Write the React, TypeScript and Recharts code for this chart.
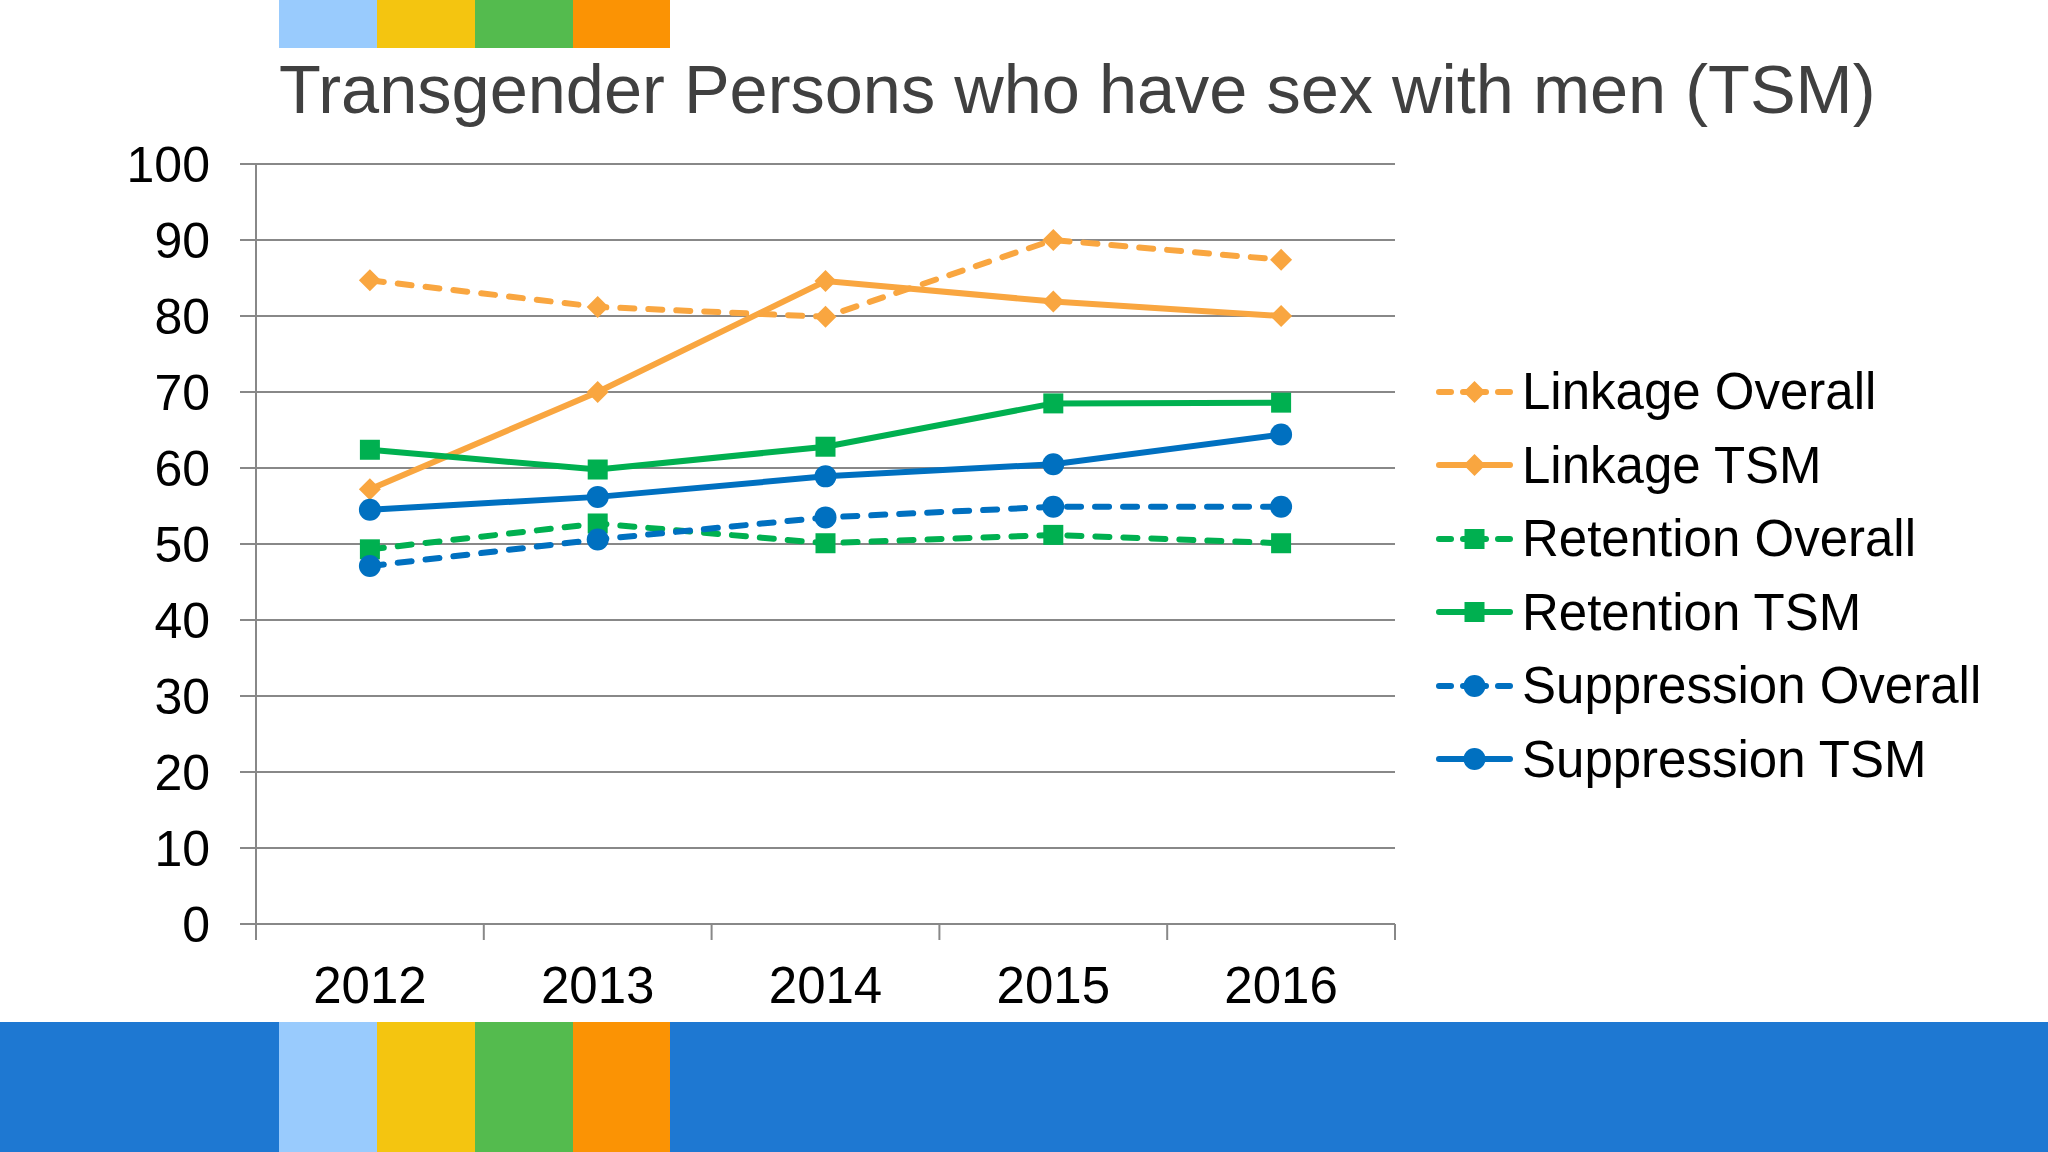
import React from 'react';
import { LineChart, Line, XAxis, YAxis, CartesianGrid, Legend } from 'recharts';

const years = ['2012', '2013', '2014', '2015', '2016'];
const linkageOverall = [84.7, 81.2, 79.9, 90.0, 87.4];
const linkageTSM = [57.2, 70.0, 84.6, 81.9, 80.0];
const retentionOverall = [49.3, 52.7, 50.1, 51.2, 50.1];
const retentionTSM = [62.4, 59.8, 62.8, 68.5, 68.6];
const suppressionOverall = [47.1, 50.6, 53.5, 54.9, 54.9];
const suppressionTSM = [54.5, 56.2, 58.9, 60.5, 64.4];
const yTicks = [0, 10, 20, 30, 40, 50, 60, 70, 80, 90, 100];
const title = 'Transgender Persons who have sex with men (TSM)';

const ORANGE = '#F9A640';
const GREEN = '#00B050';
const BLUE = '#0070C0';
const FONT = '"Liberation Sans", Arial, sans-serif';

type Shape = 'diamond' | 'square' | 'circle';

const series = [
  { key: 'linkageOverall', name: 'Linkage Overall', values: linkageOverall, color: ORANGE, dashed: true, shape: 'diamond' as Shape },
  { key: 'linkageTSM', name: 'Linkage TSM', values: linkageTSM, color: ORANGE, dashed: false, shape: 'diamond' as Shape },
  { key: 'retentionOverall', name: 'Retention Overall', values: retentionOverall, color: GREEN, dashed: true, shape: 'square' as Shape },
  { key: 'retentionTSM', name: 'Retention TSM', values: retentionTSM, color: GREEN, dashed: false, shape: 'square' as Shape },
  { key: 'suppressionOverall', name: 'Suppression Overall', values: suppressionOverall, color: BLUE, dashed: true, shape: 'circle' as Shape },
  { key: 'suppressionTSM', name: 'Suppression TSM', values: suppressionTSM, color: BLUE, dashed: false, shape: 'circle' as Shape },
];

// category i sits in the middle of band [i, i+1]
const data = years.map((year, i) => {
  const row: any = { year, pos: i + 0.5 };
  series.forEach((s) => { row[s.key] = s.values[i]; });
  return row;
});
const xTicks: number[] = [];
for (let i = 0; i <= years.length; i++) {
  xTicks.push(i);
  if (i < years.length) xTicks.push(i + 0.5);
}

function Marker({ cx, cy, shape, color, k }: { cx: number; cy: number; shape: Shape; color: string; k?: any }) {
  if (cx == null || cy == null) return <g key={k} />;
  if (shape === 'diamond') {
    const r = 11;
    return <polygon key={k} points={`${cx},${cy - r} ${cx + r},${cy} ${cx},${cy + r} ${cx - r},${cy}`} fill={color} />;
  }
  if (shape === 'square') {
    return <rect key={k} x={cx - 10} y={cy - 10} width={20} height={20} fill={color} />;
  }
  return <circle key={k} cx={cx} cy={cy} r={11} fill={color} />;
}

// integer ticks are band edges (tick marks), half ticks carry the year label
function XTick({ x, y, payload }: any) {
  const v = payload.value;
  if (Number.isInteger(v)) {
    return <line x1={x} y1={y} x2={x} y2={y + 16} stroke="#888" strokeWidth={2} />;
  }
  return (
    <text x={x} y={y + 79} textAnchor="middle" fill="#000" fontSize={51} fontFamily={FONT}>
      {years[Math.floor(v)]}
    </text>
  );
}

function LegendBox() {
  return (
    <div style={{ fontFamily: FONT }}>
      {series.map((s) => (
        <div key={s.key} style={{ display: 'flex', alignItems: 'center', height: 73.5 }}>
          <svg width={86} height={30} style={{ display: 'block' }}>
            {s.dashed ? (
              <g stroke={s.color} strokeWidth={6} strokeLinecap="round">
                <line x1={3} y1={15} x2={15} y2={15} />
                <line x1={62} y1={15} x2={74} y2={15} />
                <line x1={27} y1={15} x2={50} y2={15} />
              </g>
            ) : (
              <line x1={3} y1={15} x2={74} y2={15} stroke={s.color} strokeWidth={6} strokeLinecap="round" />
            )}
            <Marker cx={38.5} cy={15} shape={s.shape} color={s.color} />
          </svg>
          <span style={{ fontSize: 51, color: '#000', lineHeight: 1, whiteSpace: 'nowrap' }}>{s.name}</span>
        </div>
      ))}
    </div>
  );
}

const blocks = [
  { left: 279, width: 98, color: '#99CBFD' },
  { left: 377, width: 98, color: '#F4C510' },
  { left: 475, width: 98, color: '#54BB4E' },
  { left: 573, width: 97, color: '#FB9304' },
];

export default function App() {
  return (
    <div style={{ position: 'absolute', left: 0, top: 0, width: 2048, height: 1152, background: '#fff', overflow: 'hidden' }}>
      {blocks.map((b) => (
        <div key={'t' + b.left} style={{ position: 'absolute', left: b.left, top: 0, width: b.width, height: 48, background: b.color }} />
      ))}
      <div style={{ position: 'absolute', left: 0, top: 1022, width: 2048, height: 130, background: '#1E78D2' }} />
      {blocks.map((b) => (
        <div key={'b' + b.left} style={{ position: 'absolute', left: b.left, top: 1022, width: b.width, height: 130, background: b.color }} />
      ))}
      <div
        style={{
          position: 'absolute',
          left: 279,
          top: 50,
          fontFamily: FONT,
          fontSize: 68.5,
          lineHeight: '80px',
          color: '#404040',
          whiteSpace: 'nowrap',
        }}
      >
        {title}
      </div>
      <div style={{ position: 'absolute', left: 0, top: 0 }}>
        <LineChart width={2048} height={1022} data={data} margin={{ top: 164, right: 653, bottom: 0, left: 0 }}>
          <CartesianGrid horizontal vertical={false} stroke="#888" strokeWidth={2} />
          <XAxis
            dataKey="pos"
            type="number"
            domain={[0, years.length]}
            ticks={xTicks}
            interval={0}
            height={98}
            tickLine={false}
            tickSize={0}
            tickMargin={0}
            stroke="#888"
            strokeWidth={2}
            tick={<XTick />}
          />
          <YAxis
            domain={[0, 100]}
            ticks={yTicks}
            width={256}
            tickSize={16}
            tickMargin={30}
            stroke="#888"
            strokeWidth={2}
            tick={{ fill: '#000', fontSize: 50, fontFamily: FONT }}
            interval={0}
          />
          <Legend
            layout="vertical"
            align="center"
            verticalAlign="middle"
            content={() => <LegendBox />}
            wrapperStyle={{ left: 1436, top: 355, width: 600 }}
          />
          {series.map((s) => (
            <Line
              key={s.key}
              dataKey={s.key}
              name={s.name}
              stroke={s.color}
              strokeWidth={6}
              strokeDasharray={s.dashed ? '14 14' : undefined}
              strokeLinecap="round"
              isAnimationActive={false}
              dot={(p: any) => <Marker k={`${s.key}-${p.index}`} cx={p.cx} cy={p.cy} shape={s.shape} color={s.color} />}
              activeDot={false}
            />
          ))}
        </LineChart>
      </div>
    </div>
  );
}
